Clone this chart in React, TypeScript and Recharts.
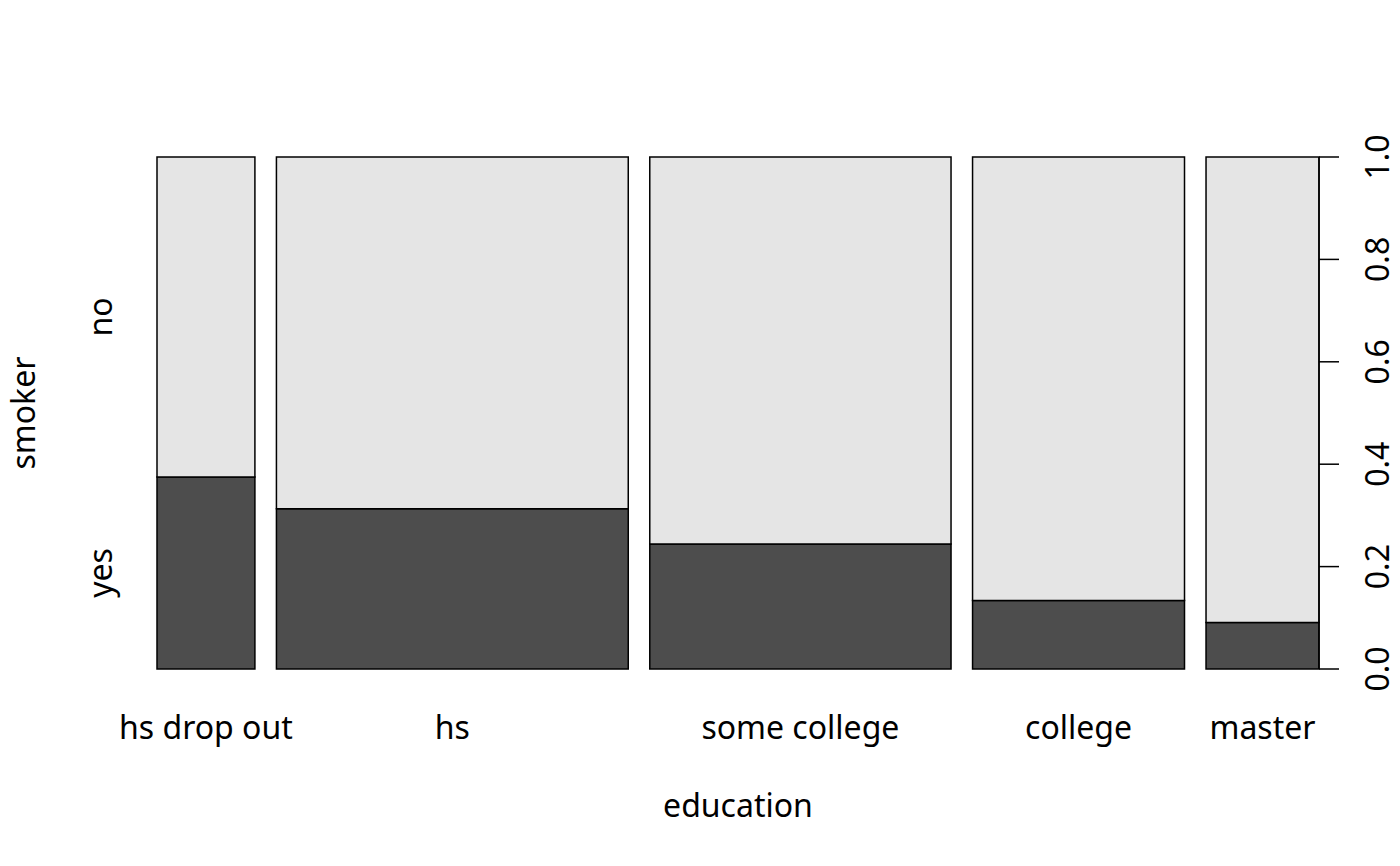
import { ComposedChart, XAxis, YAxis, ReferenceArea, Label } from 'recharts'

const categories = ['hs drop out', 'hs', 'some college', 'college', 'master']
// share of all respondents in each education group (column widths)
const groupShare = [0.091, 0.327, 0.28, 0.197, 0.105]
// share of smokers ("yes") inside each group
const yesShare = [0.375, 0.313, 0.244, 0.134, 0.091]
const yTicks = [0, 0.2, 0.4, 0.6, 0.8, 1]
const GAP = 0.02

const FONT = '"Noto Sans", "Open Sans", sans-serif'
const DARK = '#4d4d4d'
const LIGHT = '#e5e5e5'

// column start/end positions on the x scale, with a gap between columns
const columns = categories.map((name, i) => {
  const x1 = groupShare.slice(0, i).reduce((a, b) => a + b, 0) + i * GAP
  const x2 = x1 + groupShare[i]
  return { name, x1, x2, mid: (x1 + x2) / 2, yes: yesShare[i] }
})
const xMax = 1 + GAP * (categories.length - 1)
const leftTicks = [yesShare[0] / 2, (1 + yesShare[0]) / 2]
const leftNames = ['yes', 'no']

function XTick(props: any) {
  const { x, index } = props
  return (
    <text x={x} y={738.5} textAnchor="middle" fontSize={32} fontFamily={FONT} fill="#000">
      {columns[index].name}
    </text>
  )
}

function LeftTick(props: any) {
  const { y, index } = props
  return (
    <text x={112} y={y} transform={`rotate(-90, 112, ${y})`} textAnchor="middle" fontSize={32} fontFamily={FONT} fill="#000">
      {leftNames[index]}
    </text>
  )
}

function RightTick(props: any) {
  const { y, payload } = props
  return (
    <text x={1389} y={y} transform={`rotate(-90, 1389, ${y})`} textAnchor="middle" fontSize={32} fontFamily={FONT} fill="#000">
      {Number(payload.value).toFixed(1)}
    </text>
  )
}

export default function App() {
  return (
    <div style={{ position: 'absolute', left: 0, top: 0, background: '#fff' }}>
      <ComposedChart
        width={1400}
        height={866}
        data={columns}
        margin={{ top: 157, right: 11, bottom: 137, left: 97 }}
      >
        <XAxis
          dataKey="mid"
          type="number"
          domain={[0, xMax]}
          ticks={columns.map((c) => c.mid)}
          axisLine={false}
          tickLine={false}
          tick={<XTick />}
          height={60}
          allowDataOverflow
        >
          <Label
            content={(p: any) => (
              <text
                x={p.viewBox.x + p.viewBox.width / 2}
                y={816.5}
                textAnchor="middle"
                fontSize={32}
                fontFamily={FONT}
                fill="#000"
              >
                education
              </text>
            )}
          />
        </XAxis>
        <YAxis
          yAxisId="left"
          type="number"
          domain={[0, 1]}
          ticks={leftTicks}
          axisLine={false}
          tickLine={false}
          tick={<LeftTick />}
          width={60}
          allowDataOverflow
        >
          <Label
            content={(p: any) => {
              const cy = p.viewBox.y + p.viewBox.height / 2
              return (
                <text x={35} y={cy} transform={`rotate(-90, 35, ${cy})`} textAnchor="middle" fontSize={32} fontFamily={FONT} fill="#000">
                  smoker
                </text>
              )
            }}
          />
        </YAxis>
        <YAxis
          yAxisId="right"
          orientation="right"
          type="number"
          domain={[0, 1]}
          ticks={yTicks}
          axisLine={{ stroke: '#000', strokeWidth: 1.5 }}
          tickLine={{ stroke: '#000', strokeWidth: 1.5 }}
          tickSize={20}
          tick={<RightTick />}
          width={70}
          allowDataOverflow
        />
        {columns.map((c) => (
          <ReferenceArea
            key={c.name + '-yes'}
            yAxisId="left"
            x1={c.x1}
            x2={c.x2}
            y1={0}
            y2={c.yes}
            fill={DARK}
            fillOpacity={1}
            stroke="#000"
            strokeWidth={1.5}
            ifOverflow="visible"
          />
        ))}
        {columns.map((c) => (
          <ReferenceArea
            key={c.name + '-no'}
            yAxisId="left"
            x1={c.x1}
            x2={c.x2}
            y1={c.yes}
            y2={1}
            fill={LIGHT}
            fillOpacity={1}
            stroke="#000"
            strokeWidth={1.5}
            ifOverflow="visible"
          />
        ))}
      </ComposedChart>
    </div>
  )
}
